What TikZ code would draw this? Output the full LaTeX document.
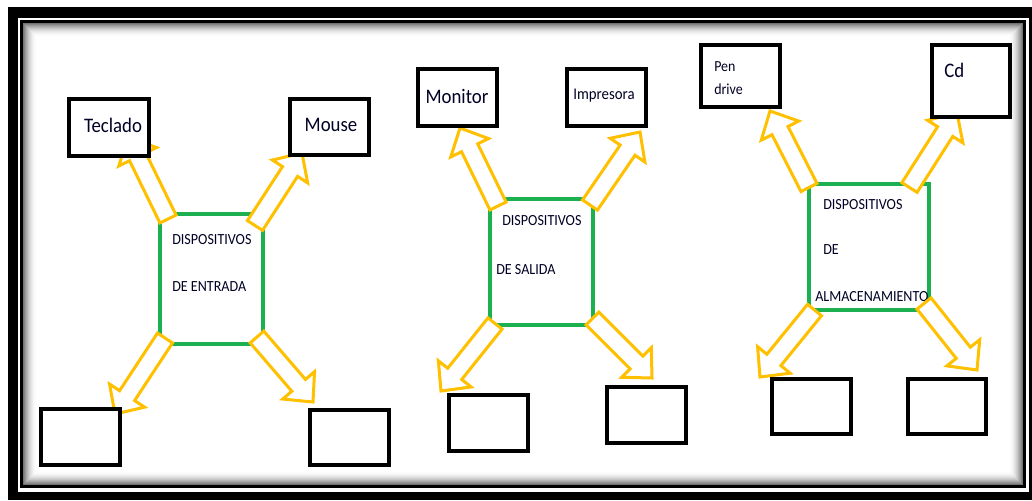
\documentclass[tikz,border=0pt]{standalone}
\usepackage{fontspec}
\setmainfont{Carlito}
\newfontfamily\cnd[FakeStretch=0.91]{Carlito}
\usetikzlibrary{calc}
\definecolor{ygold}{HTML}{FFC000}
\definecolor{ggreen}{HTML}{1DB050}
\newcommand\blockarrow[2]{%
  \coordinate (ba-h) at ($(#2)!16.5pt!(#1)$);
  \draw[yarrow] ($(#1)!6.75pt!90:(#2)$) -- ($(ba-h)!6.75pt!90:(#2)$) -- ($(ba-h)!15.75pt!90:(#2)$) -- (#2)
    -- ($(ba-h)!15.75pt!-90:(#2)$) -- ($(ba-h)!6.75pt!-90:(#2)$) -- ($(#1)!6.75pt!-90:(#2)$) -- cycle;}
\begin{document}
\begin{tikzpicture}[x=0.75pt,y=-0.75pt,
  box/.style={draw=black, line width=3pt, fill=white, inner sep=0pt},
  gbox/.style={draw=ggreen, line width=2.6pt, fill=white, inner sep=0pt},
  yarrow/.style={draw=ygold, line width=2.25pt, fill=white, line join=miter},
  big/.style={font=\cnd\fontsize{15.5pt}{18pt}\selectfont, inner sep=0pt, text=black!85!blue},
  mid/.style={font=\cnd\fontsize{12.2pt}{14pt}\selectfont, inner sep=0pt, text=black!85!blue},
  sml/.style={font=\cnd\fontsize{11.6pt}{13pt}\selectfont, inner sep=0pt, anchor=west, text=black!85!blue}]
\useasboundingbox (0,0) rectangle (1032,500);
% frame
\fill[white] (0,0) rectangle (1032,500);
\fill[black] (8,7) rectangle (1032,500);
\fill[white] (18,18) rectangle (1029,492);
\draw[line width=2.25pt] (21.5,21.5) rectangle (1024.5,486.5);
\foreach \i [evaluate=\i as \c using {55*(1-\i/14)^2}] in {0,...,13}
  \draw[black!\c, line width=0.8pt] (23.5+\i,23.5+\i) rectangle (1022.5-\i,484.5-\i);

% ---------- group 1 ----------
\node[gbox, minimum width=103*0.75pt, minimum height=130*0.75pt] (g1) at (211.5,279) {};
\node[sml] (g1a) at (172,240) {DISPOSITIVOS};
\node[sml] (g1b) at (172,287) {DE ENTRADA};
\coordinate (a1s) at (168,219);   \coordinate (a1t) at (128,137);
\coordinate (b1s) at (255,225.5); \coordinate (b1t) at (302,153);
\coordinate (c1s) at (165,338);   \coordinate (c1t) at (115,414);
\coordinate (d1s) at (257,337);   \coordinate (d1t) at (313,402);
\blockarrow{a1s}{a1t}
\blockarrow{b1s}{b1t}
\blockarrow{c1s}{c1t}
\blockarrow{d1s}{d1t}
\node[box, minimum width=80*0.75pt, minimum height=57*0.75pt] (teclado) at (109,127.5) {};
\node[big] (teclado-t) at (113,125) {Teclado};
\node[box, minimum width=79*0.75pt, minimum height=56*0.75pt] (mouse) at (329.5,127) {};
\node[big] (mouse-t) at (331,125) {Mouse};
\node[box, minimum width=79*0.75pt, minimum height=56*0.75pt] (bl1) at (80.5,437) {};
\node[box, minimum width=79*0.75pt, minimum height=55*0.75pt] (br1) at (349.5,437.5) {};

% ---------- group 2 ----------
\node[gbox, minimum width=103*0.75pt, minimum height=126*0.75pt] (g2) at (541.5,262) {};
\node[sml] (g2a) at (502,221) {DISPOSITIVOS};
\node[sml] (g2b) at (496,270) {DE SALIDA};
\coordinate (a2s) at (498,206);   \coordinate (a2t) at (460,128);
\coordinate (b2s) at (590,205);   \coordinate (b2t) at (640,132);
\coordinate (c2s) at (495,323.5); \coordinate (c2t) at (441,391);
\coordinate (d2s) at (592.5,318.5); \coordinate (d2t) at (652,378);
\blockarrow{a2s}{a2t}
\blockarrow{b2s}{b2t}
\blockarrow{c2s}{c2t}
\blockarrow{d2s}{d2t}
\node[box, minimum width=79*0.75pt, minimum height=57*0.75pt] (monitor) at (457.5,97.5) {};
\node[big] (monitor-t) at (457,96) {Monitor};
\node[box, minimum width=79*0.75pt, minimum height=57*0.75pt] (impresora) at (606.5,97.5) {};
\node[mid] (impresora-t) at (604,96) {Impresora};
\node[box, minimum width=79*0.75pt, minimum height=56*0.75pt] (bl2) at (488.5,423) {};
\node[box, minimum width=79*0.75pt, minimum height=56*0.75pt] (br2) at (646.5,415) {};

% ---------- group 3 ----------
\node[gbox, minimum width=120*0.75pt, minimum height=126*0.75pt] (g3) at (869,247) {};
\node[sml] (g3a) at (823,205) {DISPOSITIVOS};
\node[sml] (g3b) at (823,250) {DE};
\node[sml] (g3c) at (815,297) {ALMACENAMIENTO};
\coordinate (a3s) at (809,187.5); \coordinate (a3t) at (770,111);
\coordinate (b3s) at (909.5,187.5); \coordinate (b3t) at (957,113);
\coordinate (c3s) at (814.5,310); \coordinate (c3t) at (760,377);
\coordinate (d3s) at (924,303.5); \coordinate (d3t) at (977,370);
\blockarrow{a3s}{a3t}
\blockarrow{b3s}{b3t}
\blockarrow{c3s}{c3t}
\blockarrow{d3s}{d3t}
\node[box, minimum width=79*0.75pt, minimum height=62*0.75pt] (pendrive) at (740.5,76) {};
\node[mid, anchor=west, font=\cnd\fontsize{11.5pt}{13pt}\selectfont] (pen-t) at (714,67) {Pen};
\node[mid, anchor=west, font=\cnd\fontsize{11.5pt}{13pt}\selectfont] (drive-t) at (714,89) {drive};
\node[box, minimum width=78*0.75pt, minimum height=72*0.75pt] (cd) at (971,81) {};
\node[big, anchor=west] (cd-t) at (944,70) {Cd};
\node[box, minimum width=79*0.75pt, minimum height=55*0.75pt] (bl3) at (811.5,406.5) {};
\node[box, minimum width=78*0.75pt, minimum height=55*0.75pt] (br3) at (947,406.5) {};
\end{tikzpicture}
\end{document}
